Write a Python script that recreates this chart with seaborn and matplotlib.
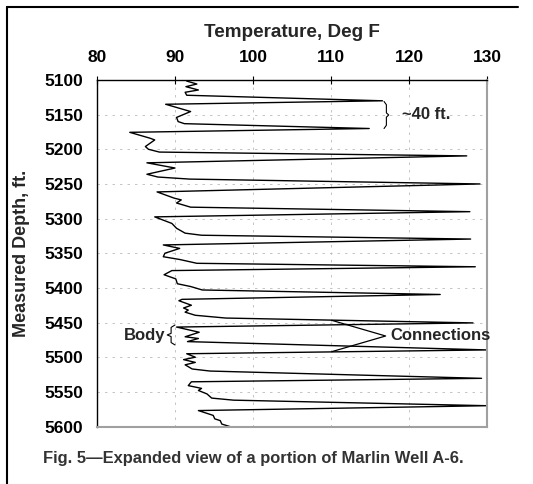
import matplotlib
matplotlib.use("Agg")
import matplotlib.pyplot as plt
import seaborn as sns
import pandas as pd
from matplotlib.lines import Line2D

# values (depth ft, temperature deg F)
depth_ft = [5101.5, 5105.8, 5109.6, 5114.4, 5117.7, 5122.0, 5130.0,
            5135.0, 5145.5, 5154.0, 5160.0, 5163.0, 5170.0,
            5175.5, 5184.0, 5186.5, 5196.0, 5200.0, 5204.0, 5209.5,
            5219.5, 5227.0, 5236.0, 5240.0, 5243.0, 5250.0,
            5261.5, 5270.5, 5273.0, 5277.5, 5283.5, 5290.0,
            5297.5, 5307.0, 5314.0, 5321.0, 5324.0, 5329.5,
            5338.0, 5343.0, 5350.0, 5355.0, 5359.0, 5364.5, 5369.5,
            5375.0, 5381.0, 5387.0, 5394.0, 5398.0, 5403.0, 5409.5,
            5416.5, 5418.5, 5425.0, 5429.0, 5432.0, 5435.0, 5439.5, 5443.5, 5450.5,
            5456.5, 5464.0, 5470.5, 5473.0, 5477.5, 5489.5,
            5495.0, 5500.0, 5503.5, 5507.5, 5511.0, 5517.0, 5520.0, 5530.5,
            5535.5, 5541.0, 5545.0, 5548.0, 5553.0, 5559.0, 5562.0, 5570.0,
            5577.0, 5584.0, 5589.0, 5591.5, 5596.5, 5601.0]
temp_f = [91.5, 92.8, 91.4, 93.0, 91.3, 91.5, 116.6,
          88.8, 92.0, 90.2, 90.4, 91.2, 114.9,
          84.2, 86.8, 87.4, 86.2, 86.6, 88.0, 127.4,
          86.4, 90.0, 86.4, 87.8, 91.9, 129.1,
          87.7, 89.9, 90.8, 90.2, 92.0, 127.8,
          87.4, 89.6, 90.2, 91.3, 93.4, 127.9,
          88.5, 90.6, 88.7, 88.5, 90.6, 92.8, 128.5,
          89.6, 88.6, 90.1, 90.3, 92.0, 93.5, 124.0,
          90.9, 90.5, 92.1, 91.1, 91.7, 91.3, 92.6, 96.5, 128.2,
          90.2, 93.1, 91.3, 93.0, 91.6, 130.0,
          91.5, 92.6, 91.1, 92.6, 91.3, 92.2, 94.5, 129.3,
          92.1, 91.7, 93.4, 93.0, 94.1, 94.7, 97.5, 130.0,
          93.0, 94.9, 95.1, 95.8, 96.0, 97.3]

x_ticks = [80, 90, 100, 110, 120, 130]
y_ticks = [5100, 5150, 5200, 5250, 5300, 5350, 5400, 5450, 5500, 5550, 5600]

sns.set_style("white")
plt.rcParams["font.family"] = ["Liberation Sans", "DejaVu Sans"]
plt.rcParams["font.weight"] = "bold"

df = pd.DataFrame({"Depth": depth_ft, "Temp": temp_f})

fig = plt.figure(figsize=(5.33, 4.84), dpi=100)
ax = fig.add_axes([0.182, 0.1188, 0.7317, 0.7159])

sns.lineplot(data=df, x="Temp", y="Depth", sort=False, estimator=None,
             color="black", linewidth=1.0, ax=ax)

ax.set_xlim(80, 130)
ax.set_ylim(5600, 5100)
ax.set_xticks(x_ticks)
ax.set_yticks(y_ticks)
ax.xaxis.tick_top()
ax.xaxis.set_label_position("top")
ax.tick_params(axis="x", direction="inout", length=6, width=0.8, pad=8,
               labelsize=12.5, colors="black")
ax.tick_params(axis="y", direction="inout", length=8, width=0.8, pad=6,
               labelsize=12.5, colors="black")
for lab in ax.get_xticklabels() + ax.get_yticklabels():
    lab.set_fontweight("bold")

ax.set_xlabel("Temperature, Deg F", fontsize=13.6, fontweight="bold", labelpad=9)
ax.set_ylabel("Measured Depth, ft.", fontsize=13, fontweight="bold", labelpad=10)

ax.grid(True, color="#bcbcbc", linestyle=(0, (3, 6)), linewidth=0.6)
for side in ["top", "left"]:
    ax.spines[side].set_color("black")
    ax.spines[side].set_linewidth(1.0)
for side in ["right", "bottom"]:
    ax.spines[side].set_color("#a0a0a0")
    ax.spines[side].set_linewidth(1.5)


def brace(ax, x_arm, x_tip, y0, y1):
    h = y1 - y0
    xm = (x_arm + x_tip) / 2
    ym = (y0 + y1) / 2
    xs = [x_arm, xm, xm, x_tip, xm, xm, x_arm]
    ys = [y0, y0 + 0.12 * h, ym - 0.08 * h, ym, ym + 0.08 * h, y1 - 0.12 * h, y1]
    ax.plot(xs, ys, color="black", linewidth=0.8, clip_on=False)


# ~40 ft bracket
brace(ax, 116.8, 117.4, 5131, 5170)
ax.text(119.1, 5150, "~40 ft.", fontsize=12, fontweight="bold", ha="left", va="center")

# body bracket
brace(ax, 90.0, 89.0, 5453.5, 5482.3)
ax.text(88.8, 5468, "Body", fontsize=12, fontweight="bold", ha="right", va="center")

# connections arrows
ax.plot([110.1, 117.0, 110.1], [5446.8, 5469.4, 5492.0], color="black", linewidth=0.9)
ax.text(117.6, 5469.4, "Connections", fontsize=12, fontweight="bold",
        ha="left", va="center")

fig.text(0.4756, 1 - 458 / 484, "Fig. 5\u2014Expanded view of a portion of Marlin Well A-6.",
         ha="center", va="center", fontsize=11.9, fontweight="bold", color="#333333")

# page frame lines
fig.add_artist(Line2D([0.0131, 0.0131], [0.0, 0.9855], color="black", linewidth=1.5,
                      transform=fig.transFigure))
fig.add_artist(Line2D([0.0131, 0.972], [0.9855, 0.9855], color="black", linewidth=1.5,
                      transform=fig.transFigure))

fig.savefig("out.png", dpi=100)
